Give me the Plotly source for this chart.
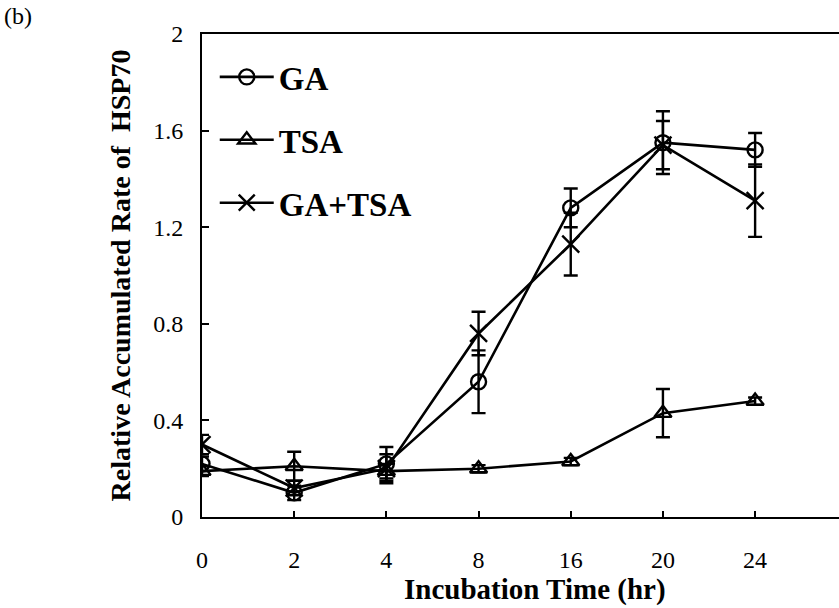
import plotly.graph_objects as go

# ---- data ----
categories = ["0", "2", "4", "8", "16", "20", "24"]
ga = [0.22, 0.10, 0.22, 0.56, 1.28, 1.55, 1.52]
ga_err = [0.03, 0.03, 0.07, 0.13, 0.08, 0.13, 0.07]
tsa = [0.19, 0.21, 0.19, 0.20, 0.23, 0.43, 0.48]
tsa_err = [0.02, 0.06, 0.03, 0.015, 0.015, 0.10, 0.015]
ga_tsa = [0.30, 0.12, 0.20, 0.76, 1.13, 1.54, 1.31]
ga_tsa_err = [0.04, 0.03, 0.06, 0.09, 0.13, 0.10, 0.15]
y_ticks = [0, 0.4, 0.8, 1.2, 1.6, 2]
y_ticktext = ["0", "0.4", "0.8", "1.2", "1.6", "2"]
x_title = "Incubation Time (hr)"
y_title = "Relative Accumulated Rate of  HSP70"
panel_label = "(b)"

xpos = list(range(len(categories)))
FONT = "Liberation Serif, Times New Roman, serif"

series = [
    ("GA", ga, ga_err, "circle-open", 15),
    ("TSA", tsa, tsa_err, "triangle-up-open", 15),
    ("GA+TSA", ga_tsa, ga_tsa_err, "x-thin-open", 17),
]

fig = go.Figure()
for name, vals, errs, sym, sz in series:
    fig.add_trace(go.Scatter(
        x=xpos, y=vals, name=name, mode="lines+markers",
        legendgroup=name,
        line=dict(color="black", width=2.6),
        marker=dict(symbol=sym, size=sz, color="black",
                    line=dict(color="black", width=2.4)),
        error_y=dict(type="data", array=errs, visible=True,
                     color="black", thickness=2.4, width=7),
    ))

fig.update_layout(
    width=839, height=608,
    margin=dict(l=202, r=0, t=34, b=91),
    paper_bgcolor="white", plot_bgcolor="white",
    font=dict(family=FONT, color="black", size=22),
    showlegend=True,
    legend=dict(
        x=0.02, y=0.969, xanchor="left", yanchor="top",
        font=dict(family=FONT, size=33, color="black", weight="bold"),
        bgcolor="rgba(0,0,0,0)", tracegroupgap=17, itemwidth=54,
    ),
    xaxis=dict(
        range=[0, 6.91], tickvals=xpos, ticktext=categories,
        showgrid=False, zeroline=False,
        showline=True, linecolor="black", linewidth=2, mirror=True,
        ticks="inside", ticklen=6, tickwidth=1.5, tickcolor="black",
        ticklabelstandoff=20,
        tickfont=dict(family=FONT, size=24, color="black"),
    ),
    yaxis=dict(
        range=[0, 2], tickvals=y_ticks, ticktext=y_ticktext,
        showgrid=False, zeroline=False,
        showline=True, linecolor="black", linewidth=2, mirror=False,
        ticks="inside", ticklen=7, tickwidth=1.5, tickcolor="black",
        ticklabelstandoff=12,
        tickfont=dict(family=FONT, size=24, color="black"),
        title=dict(text=y_title, standoff=14,
                   font=dict(family=FONT, size=28, color="black", weight="bold")),
    ),
    annotations=[
        dict(text=panel_label, xref="paper", yref="paper", x=-0.314, y=1.068,
             xanchor="left", yanchor="top", showarrow=False,
             font=dict(family=FONT, size=24, color="black")),
        dict(text=x_title, xref="paper", yref="paper", x=0.523, y=-0.151,
             xanchor="center", yanchor="middle", showarrow=False,
             font=dict(family=FONT, size=29, color="black", weight="bold")),
    ],
)

fig.write_html("out.html")
